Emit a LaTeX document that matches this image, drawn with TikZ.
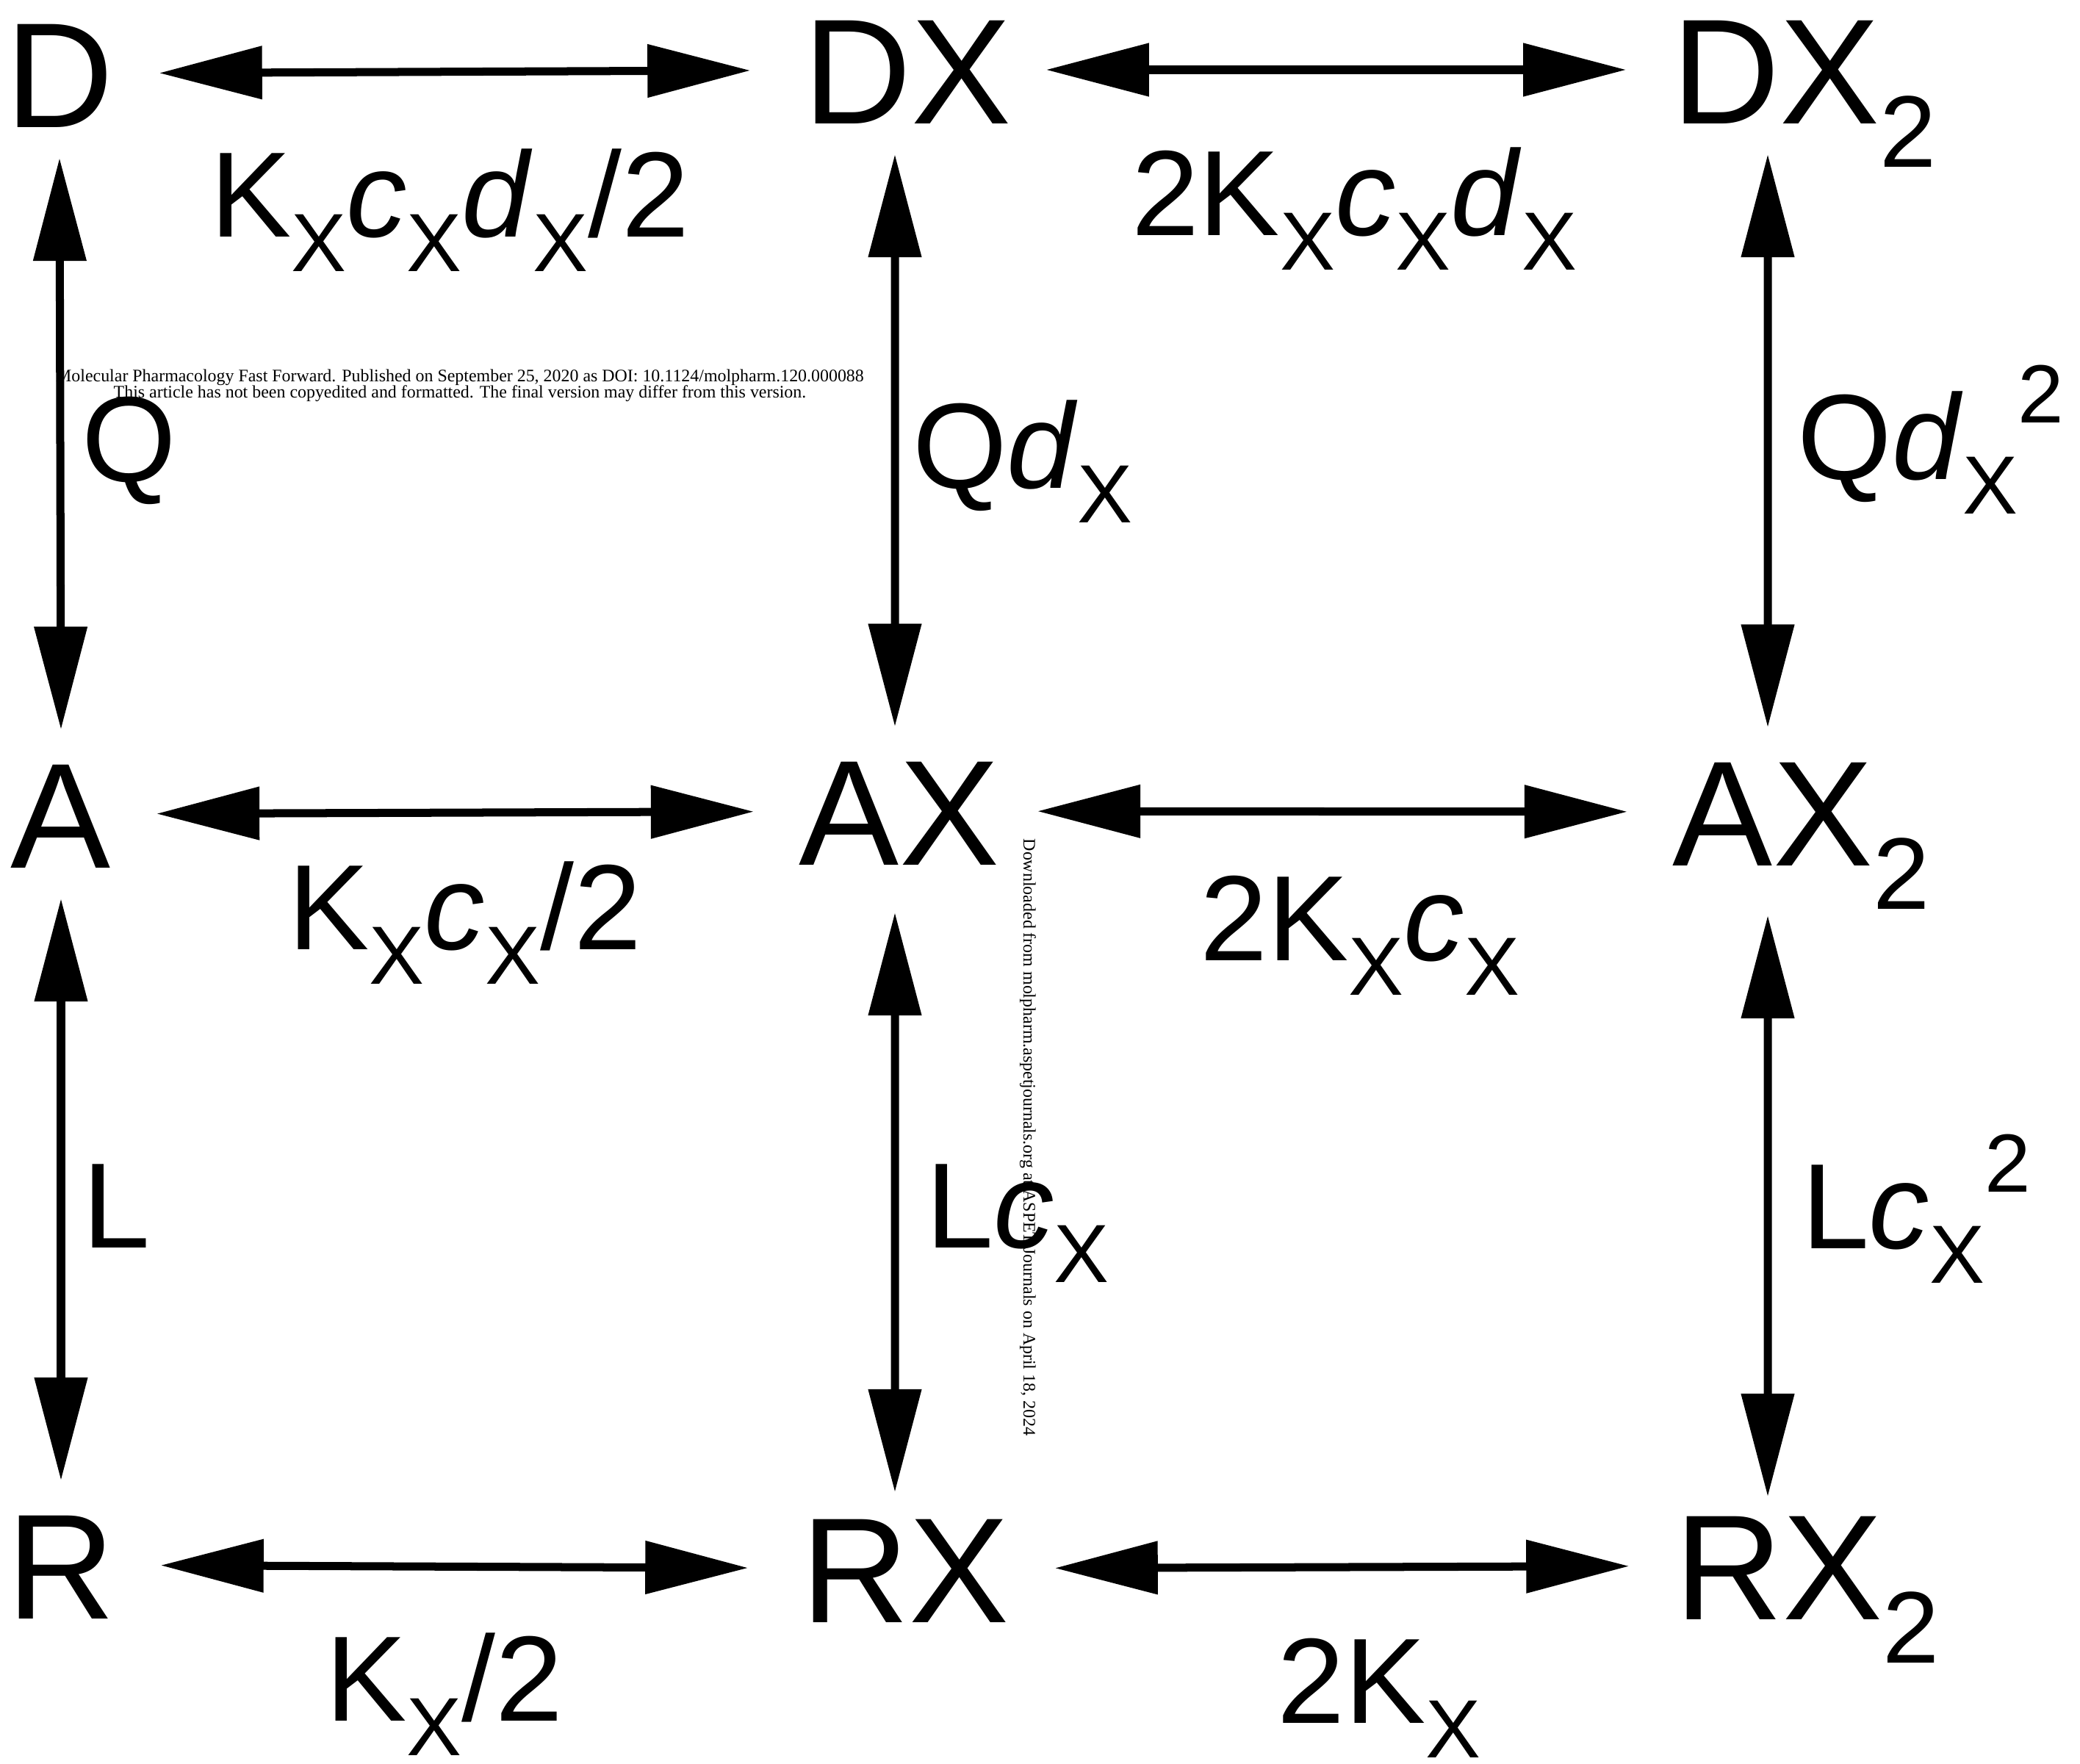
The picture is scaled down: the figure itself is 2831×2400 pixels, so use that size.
\documentclass[tikz,border=0pt]{standalone}
\usepackage{fontspec}
\setmainfont{Liberation Sans}
\newfontfamily\stampfont{Liberation Serif}
\usetikzlibrary{arrows.meta}
\newcommand{\lo}[1]{\raisebox{-0.29em}{\scalebox{0.68}{#1}}}
\newcommand{\hi}[1]{\raisebox{0.46em}{\scalebox{0.68}{#1}}}
\newcommand{\two}{\rlap{\lo{2}}}

\begin{document}
\begin{tikzpicture}[x=0.01cm,y=-0.01cm,>={Triangle[length=1.4cm,width=0.7cm]},
  species/.style={inner sep=0pt,outer xsep=0.62cm,outer ysep=0.42cm,
    text height=1.46cm,text depth=0pt,font=\fontsize{58}{60}\selectfont},
  rate/.style={inner sep=0pt,anchor=base,font=\fontsize{47}{50}\selectfont},
  link/.style={<->,line width=0.11cm},
  stamp/.style={inner sep=0pt,font=\stampfont\fontsize{6.8}{8}\selectfont}]
  \useasboundingbox (0,0) rectangle (2831,2400);
  % receptor states
  \node[species] (D)   at (81,100)    {D};
  \node[species] (DX)  at (1235,95)   {DX};
  \node[species] (DX2) at (2417,95)   {DX\two};
  \node[species] (A)   at (83,1108)   {A};
  \node[species] (AX)  at (1224,1104) {AX};
  \node[species] (AX2) at (2413,1105) {AX\two};
  \node[species] (R)   at (83,2130)   {R};
  \node[species] (RX)  at (1232,2135) {RX};
  \node[species] (RX2) at (2421,2131) {RX\two};
  % binding steps
  \draw[link,shorten >=0.1cm] (D) -- (DX);
  \draw[link,shorten <=-0.15cm] (DX) -- (DX2);
  \draw[link] (A) -- (AX);
  \draw[link,shorten <=-0.1cm] (AX) -- (AX2);
  \draw[link,shorten >=0.1cm] (R) -- (RX);
  \draw[link] (RX) -- (RX2);
  % isomerisation steps
  \draw[link] (D.south) -- (A.north);
  \draw[link] (A.south) -- (R.north);
  \draw[link] ([xshift=-0.17cm]DX.south) -- ([xshift=-0.06cm]AX.north);
  \draw[link,shorten <=0.23cm,shorten >=-0.11cm] ([xshift=-0.06cm]AX.south) -- ([xshift=-0.14cm]RX.north);
  \draw[link] ([xshift=-0.11cm]DX2.south) -- ([xshift=-0.07cm]AX2.north);
  \draw[link,shorten <=0.26cm,shorten >=-0.21cm] ([xshift=-0.07cm]AX2.south) -- ([xshift=-0.15cm]RX2.north);
  % rate labels
  \node[rate] (kD)  at (612,322)   {K\lo{X}\textit{c}\lo{X}\textit{d}\lo{X}/2};
  \node[rate] (kDX) at (1843,320)  {2K\lo{X}\textit{c}\lo{X}\textit{d}\lo{X}};
  \node[rate] (kA)  at (633,1292)  {K\lo{X}\textit{c}\lo{X}/2};
  \node[rate] (kAX) at (1851,1307) {2K\lo{X}\textit{c}\lo{X}};
  \node[rate] (kR)  at (605,2342)  {K\lo{X}/2};
  \node[rate] (kRX) at (1877,2345) {2K\lo{X}};
  \node[rate] (q0)  at (176,655)   {Q};
  \node[rate] (q1)  at (1392,664)  {Q\textit{d}\lo{X}};
  \node[rate] (q2)  at (2628,652)  {Q\textit{d}\lo{X}\hi{2}};
  \node[rate] (l0)  at (158,1698)  {L};
  \node[rate] (l1)  at (1385,1698) {L\textit{c}\lo{X}};
  \node[rate] (l2)  at (2608,1699) {L\textit{c}\lo{X}\hi{2}};
  % journal stamps
  \node[stamp] (doi)  at (626,514) {Molecular Pharmacology Fast Forward. Published on September 25, 2020 as DOI: 10.1124/molpharm.120.000088};
  \node[stamp] (note) at (626,536) {This article has not been copyedited and formatted. The final version may differ from this version.};
  \node[stamp,rotate=-90] (dl) at (1399,1548) {Downloaded from molpharm.aspetjournals.org at ASPET Journals on April 18, 2024};
\end{tikzpicture}
\end{document}
